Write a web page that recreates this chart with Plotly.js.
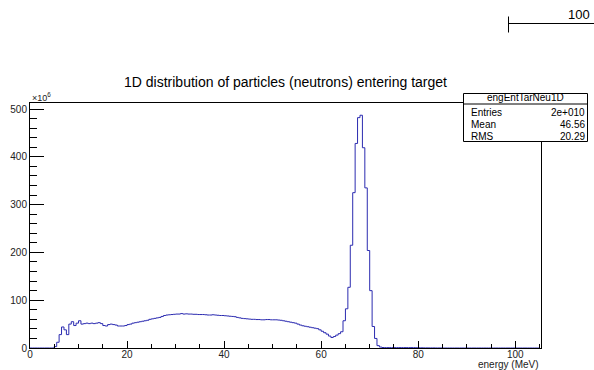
<!DOCTYPE html>
<html>
<head>
<meta charset="utf-8">
<script src="https://cdn.plot.ly/plotly-3.0.1.min.js"></script>
<style>html,body{margin:0;padding:0;background:#fff;}#chart{width:594px;height:370px;}</style>
</head>
<body>
<div id="chart"></div>
<script>
// Histogram definition (energy in MeV), counts in units of 1e6
var binStart = 0;
var binWidth = 0.5;
var counts = [
  0,0,0,0,0,0,0,0,0,0,
  3,12,28,44,38,28,50,55,47,52,
  57,50,51,52,51,52,51,52,53,51,
  47,46,49,50,49,48,46,46,46,47,
  49,50,52,53,54,55,56,57,58,60,
  61,62,63,64,66,68,69,69.5,70,70.5,
  71,71,72,71,71.5,71,71,70.5,70.5,70,
  70,70,69.5,69,69,69.5,69,68.5,68,68,
  67.5,67,66.5,66,65.5,64,63,62,61.5,61,
  60.5,60,60,59.5,59.5,59,59,59.5,59.5,59,
  59,59,58.5,58,57,56,55,54,53,52,
  50,48,46.5,45.5,44.5,43.5,42.5,41.5,40.5,38,
  35,32,29,25,22,24,27,30,34,57,
  82,127,215,325,428,482,487,419,335,204,
  120,45,20,5,2,1,0.8,0.8,0.8,0.8,
  0.8,0.8,0.8,0.8,0.8,0.8,0.8,0.8,0.8,0.6,
  0.5,0.4,0.3,0.3,0.2,0.2,0.2,0.1,0.1,0.1,
  0,0,0,0,0,0,0,0,0,0,
  0,0,0,0,0,0,0,0,0,0,
  0,0,0,0,0,0,0,0,0,0,
  0,0,0,0,0,0,0,0,0,0
];
var xTickVals = [0,20,40,60,80,100];
var yTickVals = [0,100,200,300,400,500];
var titleText = "1D distribution of particles (neutrons) entering target";
var xTitle = "energy (MeV)";
var statsName = "engEntTarNeu1D";
var statsLabels = ["Entries","Mean","RMS"];
var statsValues = ["2e+010","46.56","20.29"];

var xs = [], ys = [];
for (var i = 0; i < counts.length; i++) { xs.push(binStart + i*binWidth); ys.push(counts[i]); }
xs.push(binStart + counts.length*binWidth); ys.push(counts[counts.length-1]);

var FONT = "Liberation Sans, Arial, sans-serif";
// pixel -> paper helpers (plot area: x 30..541, y 103..348)
function px(x){ return (x-30)/511; }
function py(y){ return (348-y)/245; }

var annotations = [
  {xref:'paper',yref:'paper',x:px(30),y:py(97),xanchor:'left',yanchor:'middle',text:'×10<sup>6</sup>',showarrow:false,font:{family:FONT,size:9,color:'#222'}},
  {xref:'paper',yref:'paper',x:1,y:py(364.5),xanchor:'right',yanchor:'middle',text:xTitle,showarrow:false,font:{family:FONT,size:10,color:'#222'}},
  {xref:'paper',yref:'paper',x:px(592),y:py(15),xanchor:'right',yanchor:'middle',text:'100',showarrow:false,font:{family:FONT,size:13,color:'#000'}},
  {xref:'paper',yref:'paper',x:px(525.5),y:py(97.5),xanchor:'center',yanchor:'middle',text:statsName,showarrow:false,font:{family:FONT,size:10,color:'#000'}}
];
var rowY = [112.5,124.5,136.5];
for (var r = 0; r < statsLabels.length; r++) {
  annotations.push({xref:'paper',yref:'paper',x:px(469),y:py(rowY[r]),xanchor:'left',yanchor:'middle',text:statsLabels[r],showarrow:false,font:{family:FONT,size:10,color:'#000'}});
  annotations.push({xref:'paper',yref:'paper',x:px(586.5),y:py(rowY[r]),xanchor:'right',yanchor:'middle',text:statsValues[r],showarrow:false,font:{family:FONT,size:10,color:'#000'}});
}

var shapes = [
  {type:'rect',xref:'paper',yref:'paper',x0:px(463.5),x1:px(587.5),y0:py(141.5),y1:py(93.5),fillcolor:'#fff',line:{color:'#000',width:1},layer:'above'},
  {type:'line',xref:'paper',yref:'paper',x0:px(463.5),x1:px(587.5),y0:py(104),y1:py(104),line:{color:'#000',width:1},layer:'above'},
  {type:'line',xref:'paper',yref:'paper',x0:px(508.5),x1:px(595),y0:py(23.5),y1:py(23.5),line:{color:'#000',width:1},layer:'above'},
  {type:'line',xref:'paper',yref:'paper',x0:px(508.5),x1:px(508.5),y0:py(16.5),y1:py(32.5),line:{color:'#000',width:1},layer:'above'}
];

var trace = {x:xs,y:ys,type:'scatter',mode:'lines',line:{shape:'hv',color:'#2b2bb0',width:1},hoverinfo:'skip'};

var layout = {
  width:594,height:370,
  margin:{l:30,r:53,t:103,b:22,pad:0},
  paper_bgcolor:'#fff',plot_bgcolor:'#fff',
  showlegend:false,
  title:{text:titleText,x:285.5/594,xref:'container',y:1-82/370,yref:'container',xanchor:'center',yanchor:'middle',font:{family:FONT,size:14,color:'#000'}},
  xaxis:{range:[0,105.3],tickvals:xTickVals,ticktext:xTickVals.map(String),ticks:'inside',ticklen:7,tickcolor:'#000',tickwidth:1,
    ticklabelstandoff:-3,
    minor:{dtick:5,tick0:0,ticks:'inside',ticklen:4,tickcolor:'#000',tickwidth:1},
    showline:true,linecolor:'#000',linewidth:1,mirror:true,showgrid:false,zeroline:false,
    tickfont:{family:FONT,size:10,color:'#222'}},
  yaxis:{range:[0,512.6],tickvals:yTickVals,ticktext:yTickVals.map(String),ticks:'inside',ticklen:14,tickcolor:'#000',tickwidth:1,
    minor:{dtick:20,tick0:0,ticks:'inside',ticklen:7,tickcolor:'#000',tickwidth:1},
    showline:true,linecolor:'#000',linewidth:1,mirror:true,showgrid:false,zeroline:false,
    tickfont:{family:FONT,size:10,color:'#222'}},
  annotations:annotations,
  shapes:shapes
};
Plotly.newPlot('chart',[trace],layout,{displayModeBar:false,staticPlot:true});
</script>
</body>
</html>
